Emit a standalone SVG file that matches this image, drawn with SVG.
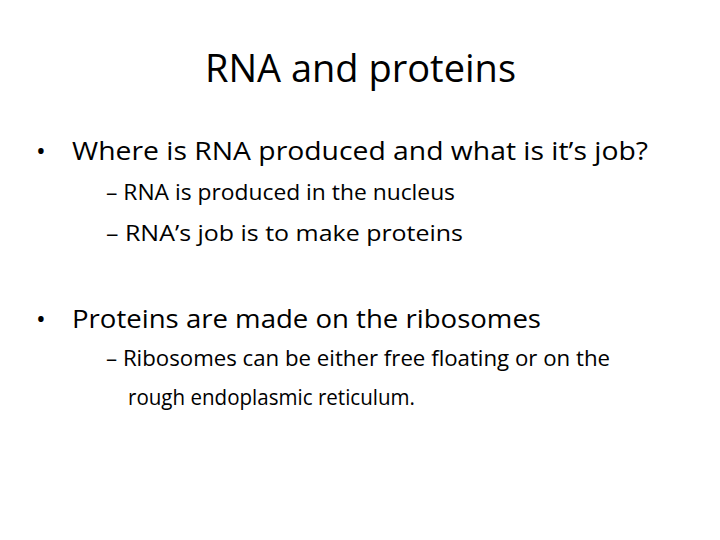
<svg xmlns="http://www.w3.org/2000/svg" width="720" height="540" viewBox="0 0 720 540">
<style>
text{font-family:"Open Sans","Liberation Sans",sans-serif;fill:#000}
.t{font-size:38px}
.b{font-size:26px}
.s{font-size:22px}
</style>
<rect width="720" height="540" fill="#fff"/>
<g id="title"><text class="t" x="205" y="82" textLength="311" lengthAdjust="spacingAndGlyphs">RNA and proteins</text></g>
<g id="body">
<text class="b" x="36" y="160">•</text>
<text class="b" x="72" y="160" textLength="576" lengthAdjust="spacingAndGlyphs">Where is RNA produced and what is it’s job?</text>
<text class="s" x="106" y="200" textLength="349" lengthAdjust="spacingAndGlyphs">– RNA is produced in the nucleus</text>
<text class="s" x="106" y="241" textLength="357" lengthAdjust="spacingAndGlyphs">– RNA’s job is to make proteins</text>
<text class="b" x="36" y="328">•</text>
<text class="b" x="72" y="328" textLength="469" lengthAdjust="spacingAndGlyphs">Proteins are made on the ribosomes</text>
<text class="s" x="106" y="366" textLength="504" lengthAdjust="spacingAndGlyphs">– Ribosomes can be either free floating or on the</text>
<text class="s" x="128" y="405" textLength="287" lengthAdjust="spacingAndGlyphs">rough endoplasmic reticulum.</text>
</g>
</svg>
